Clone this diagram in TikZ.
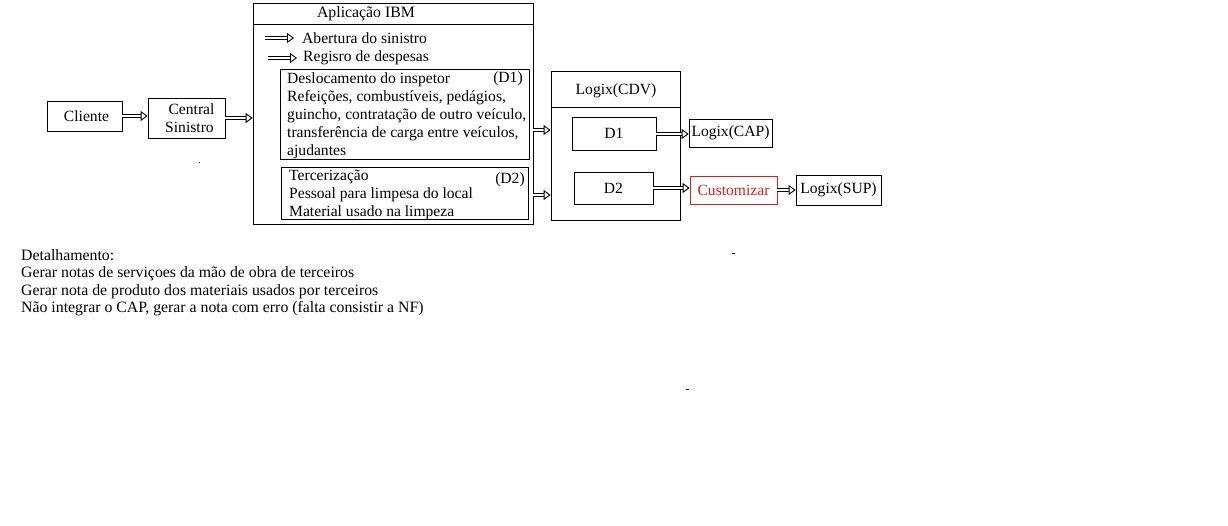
\documentclass[tikz,border=0pt]{standalone}
\usepackage{fontspec}
\setmainfont{Liberation Serif}
\usetikzlibrary{arrows.meta,calc}
\begin{document}
\begin{tikzpicture}[x=1pt,y=-1pt,
  every node/.style={font=\fontsize{15.6}{18}\selectfont},
  box/.style={draw, rectangle, line width=0.8pt, inner sep=0pt},
  harrow/.style={double, double distance=2.8pt, line width=0.9pt,
    -{Triangle[open,length=7pt,width=10pt,line width=0.9pt]}},
  txt/.style={inner sep=0pt, align=left}]
\useasboundingbox[fill=white] (0,0) rectangle (1228,526);

% left boxes
\node[box, minimum width=75pt, minimum height=30pt] (cli) at (84.5,116) {\raisebox{-2pt}{\hspace*{4pt}Cliente}};
\node[box, minimum width=77pt, minimum height=40pt, align=center, font=\fontsize{15.6}{18}\selectfont] (cs) at (186.5,118) {\hspace*{10pt}Central\\\hspace*{6pt}Sinistro};
\fill (198.5,162) rectangle (200,163.5);

% IBM application
\node[box, minimum width=280pt, minimum height=221pt] (ibm) at (393,113.5) {};
\draw[line width=0.8pt] (ibm.west |- 0,24) -- (ibm.east |- 0,24);
\node[font=\fontsize{15.8}{18}\selectfont] (ibmt) at (366,14) {Aplicação IBM};
\coordinate (a1s) at (265,38);
\coordinate (a1e) at (294,38);
\draw[harrow] (a1s) -- (a1e);
\node[txt, anchor=west] (ab) at (302,38) {Abertura do sinistro};
\coordinate (a2s) at (268,58);
\coordinate (a2e) at (297,58);
\draw[harrow] (a2s) -- (a2e);
\node[txt, anchor=west] (rd) at (303,58) {Regisro de despesas};

\node[box, anchor=north west, minimum width=249pt, minimum height=90pt] (d1) at (280,69) {};
\node[txt, anchor=north west] (d1t) at (287,72)
 {Deslocamento do inspetor\\Refeições, combustíveis, pedágios,\\guincho, contratação de outro veículo,\\transferência de carga entre veículos,\\ajudantes};
\node[txt] (d1l) at (508,79) {(D1)};
\node[box, anchor=north west, minimum width=247pt, minimum height=52pt] (d2) at (281,167) {};
\node[txt, anchor=north west] (d2t) at (289,170)
 {Tercerização\\Pessoal para limpesa do local\\Material usado na limpeza};
\node[txt] (d2l) at (510,180) {(D2)};

% Logix CDV
\node[box, minimum width=129pt, minimum height=149pt] (cdv) at (615.5,145.5) {};
\draw[line width=0.8pt] (cdv.west |- 0,107) -- (cdv.east |- 0,107);
\node (cdvt) at (616,91) {Logix(CDV)};
\node[box, minimum width=84pt, minimum height=33pt] (cd1) at (614,133.5) {D1};
\node[box, minimum width=79pt, minimum height=32pt] (cd2) at (613.5,188) {D2};

\node[box, minimum width=83pt, minimum height=28pt] (cap) at (730.5,133) {Logix(CAP)};
\node[box, draw={rgb,255:red,220;green,30;blue,30}, text={rgb,255:red,220;green,30;blue,30}, minimum width=87pt, minimum height=28pt] (cust) at (733.5,190) {Customizar};
\node[box, minimum width=85pt, minimum height=30pt] (sup) at (838.5,190) {Logix(SUP)};

% connectors
\draw[harrow] (cli.east) -- (cli.east -| cs.west);
\draw[harrow] (cs.east) -- (cs.east -| ibm.west);
\draw[harrow] (ibm.east |- 0,130) -- (cdv.west |- 0,130);
\draw[harrow] (ibm.east |- 0,195) -- (cdv.west |- 0,195);
\draw[harrow] (cd1.east |- 0,134) -- (cap.west |- 0,134);
\draw[harrow] (cd2.east) -- (cd2.east -| cust.west);
\draw[harrow] (cust.east) -- (sup.west);

% stray marks
\fill (732,253) rectangle (734.5,254.5);
\fill (686,388.5) rectangle (689,390);

% notes
\node[txt, anchor=north west, font=\fontsize{15.8}{17.5}\selectfont] (det) at (21,249)
 {Detalhamento:\\Gerar notas de serviçoes da mão de obra de terceiros\\Gerar nota de produto dos materiais usados por terceiros\\Não integrar o CAP, gerar a nota com erro (falta consistir a NF)};
\end{tikzpicture}
\end{document}
